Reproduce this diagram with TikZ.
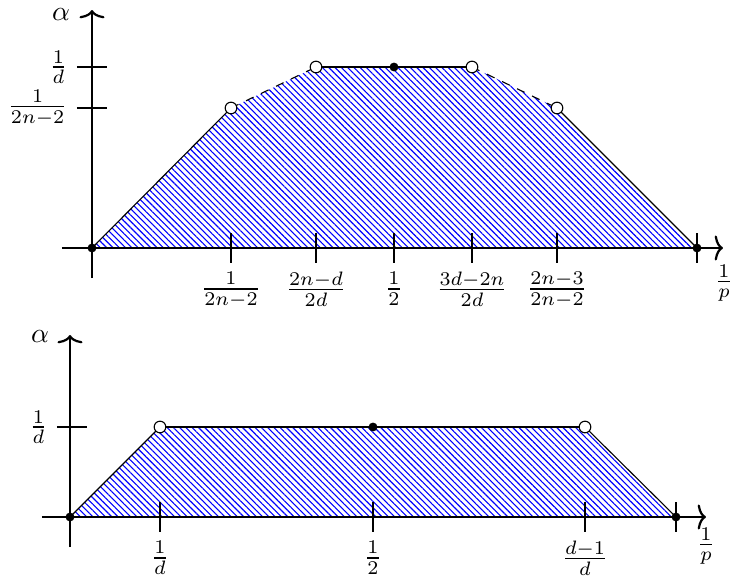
\documentclass[tikz,border=0pt]{standalone}
\usetikzlibrary{patterns.meta,arrows.meta}
\begin{document}
\begin{tikzpicture}[x=0.36pt,y=-0.36pt,
  axis/.style={thick,-{Computer Modern Rightarrow[width=9pt,length=3pt]}},
  tickmark/.style={thin},
  edge/.style={thin},
  hatch/.style={pattern={Lines[angle=-45,distance=1.6pt,line width=0.4pt]},pattern color=blue},
  opendot/.style={circle,draw,fill=white,inner sep=0pt,minimum size=4.2pt,thin},
  fulldot/.style={circle,fill,inner sep=0pt,minimum size=3.2pt},
  xlab/.style={anchor=north,inner sep=3.2pt},
  ylab/.style={anchor=east,inner sep=3.2pt},
  axlab/.style={inner sep=0pt}]
\useasboundingbox (0,0) rectangle (732,581);
% ---------------- top diagram ----------------
\coordinate (O1) at (92,248);
\coordinate (A) at (231,108);
\coordinate (B) at (316,67);
\coordinate (M) at (394,67);
\coordinate (C) at (472,67);
\coordinate (D) at (557,108);
\coordinate (E) at (697,248);
\fill[hatch] (O1) -- (A) -- (B) -- (C) -- (D) -- (E) -- cycle;
\coordinate (xs1) at (62,248);
\coordinate (xe1) at (723,248);
\coordinate (ys1) at (92,278);
\coordinate (ye1) at (92,10);
\draw[axis] (xs1) -- (xe1);
\draw[axis] (ys1) -- (ye1);
\node[axlab] (alpha1) at (61,15) {$\alpha$};
\node (p1) at (724,283) {$\frac{1}{p}$};
% y ticks
\coordinate (ya1) at (77,67);  \coordinate (yb1) at (107,67);
\coordinate (ya2) at (77,108); \coordinate (yb2) at (107,108);
\draw[tickmark] (ya1) -- (yb1);
\draw[tickmark] (ya2) -- (yb2);
\node[ylab] (ly1) at (ya1) {$\frac{1}{d}$};
\node[ylab] (ly2) at (ya2) {$\frac{1}{2n-2}$};
% x ticks
\foreach \x/\n in {231/a,316/b,394/c,472/d,557/e,697/f}{
  \coordinate (tt\n) at (\x,233);
  \coordinate (tb\n) at (\x,263);
  \draw[tickmark] (tt\n) -- (tb\n);
}
\node[xlab] (lxa) at (tba) {$\frac{1}{2n-2}$};
\node[xlab] (lxb) at (tbb) {$\frac{2n-d}{2d}$};
\node[xlab] (lxc) at (tbc) {$\frac{1}{2}$};
\node[xlab] (lxd) at (tbd) {$\frac{3d-2n}{2d}$};
\node[xlab] (lxe) at (tbe) {$\frac{2n-3}{2n-2}$};
% boundary
\draw[edge] (O1) -- (A);
\draw[edge,dashed] (A) -- (B);
\draw[edge] (B) -- (C);
\draw[edge,dashed] (C) -- (D);
\draw[edge] (D) -- (E);
\node[opendot] (dA) at (A) {};
\node[opendot] (dB) at (B) {};
\node[opendot] (dC) at (C) {};
\node[opendot] (dD) at (D) {};
\node[fulldot] (dM) at (M) {};
\node[fulldot] (dO1) at (O1) {};
\node[fulldot] (dE) at (E) {};
% ---------------- bottom diagram ----------------
\coordinate (O2) at (70,517);
\coordinate (P) at (160,427);
\coordinate (Q) at (373,427);
\coordinate (R) at (585,427);
\coordinate (S) at (676,517);
\fill[hatch] (O2) -- (P) -- (R) -- (S) -- cycle;
\coordinate (xs2) at (42,517);
\coordinate (xe2) at (706,517);
\coordinate (ys2) at (70,547);
\coordinate (ye2) at (70,335);
\draw[axis] (xs2) -- (xe2);
\draw[axis] (ys2) -- (ye2);
\node[axlab] (alpha2) at (40,337) {$\alpha$};
\node (p2) at (706,546) {$\frac{1}{p}$};
\coordinate (ya3) at (57,427); \coordinate (yb3) at (87,427);
\draw[tickmark] (ya3) -- (yb3);
\node[ylab] (ly3) at (ya3) {$\frac{1}{d}$};
\foreach \x/\n in {160/a,373/b,585/c,676/d}{
  \coordinate (ut\n) at (\x,502);
  \coordinate (ub\n) at (\x,532);
  \draw[tickmark] (ut\n) -- (ub\n);
}
\node[xlab] (mxa) at (uba) {$\frac{1}{d}$};
\node[xlab] (mxb) at (ubb) {$\frac{1}{2}$};
\node[xlab] (mxc) at (ubc) {$\frac{d-1}{d}$};
\draw[edge] (O2) -- (P);
\draw[edge] (P) -- (R);
\draw[edge] (R) -- (S);
\node[opendot] (dP) at (P) {};
\node[opendot] (dR) at (R) {};
\node[fulldot] (dQ) at (Q) {};
\node[fulldot] (dO2) at (O2) {};
\node[fulldot] (dS) at (S) {};
\end{tikzpicture}
\end{document}
